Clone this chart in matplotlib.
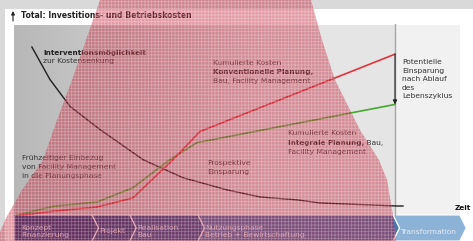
import matplotlib.pyplot as plt
import matplotlib.transforms as mtransforms
from matplotlib.patches import Polygon, Rectangle
import numpy as np

# Zeit: 0 = Konzeptbeginn, 100 = Ende Lebenszyklus ; Kosten: 0..100
konv_x = [0, 10.8, 21.8, 31.2, 41.7, 48.8, 100]
konv_y = [0, 2.6, 4.7, 9.4, 29.3, 44.0, 84.3]
integ_x = [0, 10.2, 21.8, 31.2, 35.7, 40.9, 48.0, 89.0, 100]
integ_y = [0, 5.0, 7.3, 14.7, 21.5, 29.3, 38.2, 53.9, 58.1]
interv_x = [4.7, 9.4, 14.7, 22.6, 33.9, 44.4, 55.9, 64.6, 74.3, 80.3, 100.5, 102.1]
interv_y = [88, 71.2, 57.1, 45, 29.3, 19.9, 13.6, 9.9, 8.4, 6.8, 5.2, 5.2]

phasen = ['Konzept\nFinanzierung', 'Projekt', 'Realisation\nBau',
          'Nutzungsphase\nBetrieb + Bewirtschaftung', 'Transformation']
phasen_start = [0, 20.5, 30.4, 48.3, 99.5]
phasen_ende = [20.5, 30.4, 48.3, 99.5, 117]
phasen_farben = ['#1f3f80', '#234687', '#2f5797', '#4b76b1', '#8cb3d6']

W, H = 473, 241
fig = plt.figure(figsize=(W / 100, H / 100), dpi=100)

# Hintergrund in Pixelkoordinaten
bg = fig.add_axes([0, 0, 1, 1], zorder=0)
bg.set_xlim(0, W)
bg.set_ylim(H, 0)
bg.axis('off')
bg.add_patch(Rectangle((0, 0), W, 9, color='#d9d9d9', lw=0))
bg.add_patch(Rectangle((0, 0), 5, H, color='#d9d9d9', lw=0))
grad = np.linspace(0, 1, 200)
grad = np.clip(grad / 0.65, 0, 1)
c0 = np.array([0.72, 0.72, 0.72])
c1 = np.array([0.90, 0.90, 0.90])
img = c0[None, None, :] + (c1 - c0)[None, None, :] * grad[None, :, None]
bg.imshow(img, extent=[14, 396, 216, 25], aspect='auto', zorder=1)
bg.add_patch(Rectangle((396, 25), 64, 191, color='#f1f1f1', lw=0, zorder=1))
bg.set_xlim(0, W)
bg.set_ylim(H, 0)

# Diagramm
ax = fig.add_axes([14 / W, 25 / H, (460 - 14) / W, (216 - 24) / H], zorder=1)
ax.set_xlim(0, (460 - 14) / 3.81)
ax.set_ylim(0, 100)
ax.patch.set_visible(False)
ax.axis('off')
ax.axvline(100, color='#a6a6a6', lw=1.0, zorder=1)
ax.plot(interv_x, interv_y, color='#1e1e1e', lw=1.0, zorder=3)
ax.plot(integ_x, integ_y, color='#45a830', lw=1.2, zorder=4)
ax.plot(konv_x, konv_y, color='#e3323c', lw=1.2, zorder=5)
ax.annotate('', xy=(integ_x[-1], integ_y[-1]), xytext=(konv_x[-1], konv_y[-1]),
            arrowprops=dict(arrowstyle='-|>', color='#222222', lw=0.8,
                            mutation_scale=6, shrinkA=0, shrinkB=0), zorder=6)

# Phasenbalken
trans_bg = mtransforms.blended_transform_factory(ax.transData, bg.transData)
tip = 1.7
for i, (a, b, c) in enumerate(zip(phasen_start, phasen_ende, phasen_farben)):
    left_in = 0 if i == 0 else tip
    pts = [(a, 215), (b, 215), (b + tip, 228), (b, 241), (a, 241), (a + left_in, 228)]
    bg.add_patch(Polygon(pts, closed=True, facecolor=c, edgecolor='white',
                         lw=0.8, transform=trans_bg, zorder=2))

# Texte und Abdeckung
top = fig.add_axes([0, 0, 1, 1], zorder=2)
top.set_xlim(0, W)
top.set_ylim(H, 0)
top.axis('off')
top.patch.set_visible(False)

fs = 5.4
fb = 5.2
tc = '#333333'
top.text(21, 15.5, 'Total: Investitions- und Betriebskosten', fontsize=5.6,
         fontweight='bold', color='#222222', va='center')
top.annotate('', xy=(13, 11), xytext=(13, 21),
             arrowprops=dict(arrowstyle='-|>', color='#222222', lw=0.8,
                             mutation_scale=5, shrinkA=0, shrinkB=0))
top.text(43, 52.5, 'Interventionsmöglichkeit', fontsize=fb, fontweight='bold', color='#222222', va='center')
top.text(43, 61.5, 'zur Kostensenkung', fontsize=fs, color=tc, va='center')

top.text(213, 63, 'Kumulierte Kosten', fontsize=fs, color=tc, va='center')
top.text(213, 72, 'Konventionelle Planung,', fontsize=fb, fontweight='bold', color='#222222', va='center')
top.text(213, 81, 'Bau, Facility Management', fontsize=fs, color=tc, va='center')

for k, s in enumerate(['Potentielle', 'Einsparung', 'nach Ablauf', 'des', 'Lebenszyklus']):
    top.text(402, 62 + 8.6 * k, s, fontsize=fs, color=tc, va='center')

top.text(288, 133, 'Kumulierte Kosten', fontsize=fs, color=tc, va='center')
tb = top.text(288, 143, 'Integrale Planung,', fontsize=fb, fontweight='bold', color='#222222', va='center')
top.annotate(' Bau,', xy=(1, 0), xycoords=tb, fontsize=fs, color=tc, va='bottom', ha='left')
top.text(288, 152, 'Facility Management', fontsize=fs, color=tc, va='center')

top.text(207, 163, 'Prospektive', fontsize=fs, color=tc, va='center')
top.text(207, 172, 'Einsparung', fontsize=fs, color=tc, va='center')

top.text(22, 158, 'Frühzeitiger Einbezug', fontsize=fs, color=tc, va='center')
top.text(22, 167, 'von Facility Management', fontsize=fs, color=tc, va='center')
top.text(22, 176, 'in die Planungsphase', fontsize=fs, color=tc, va='center')

top.text(471, 208, 'Zeit', fontsize=5.2, fontweight='bold', color='#111111',
         va='center', ha='right')

trans_top = mtransforms.blended_transform_factory(ax.transData, top.transData)
for name, a in zip(phasen, phasen_start):
    top.text(a + 1.9, 231.5, name, fontsize=fs, color='#e4ecf6', va='center',
             linespacing=1.2, transform=trans_top)

# rote, gerasterte Abdeckung
cover = [(100, 0), (86, 40), (72, 80), (57, 120), (43, 160), (22, 190), (6, 218), (0, 232),
         (0, 241), (396, 241), (393, 215), (387, 180), (379, 160), (360, 130),
         (335, 80), (322, 40), (311, 0)]
top.add_patch(Polygon(cover, closed=True, facecolor=(0.74, 0.08, 0.17, 0.42),
                      lw=0, zorder=10))
plt.rcParams['hatch.linewidth'] = 0.6
top.add_patch(Polygon(cover, closed=True, facecolor='none',
                      edgecolor=(1, 1, 1, 0.30), hatch='+++++', lw=0, zorder=11))

fig.savefig('out.png', dpi=100)
